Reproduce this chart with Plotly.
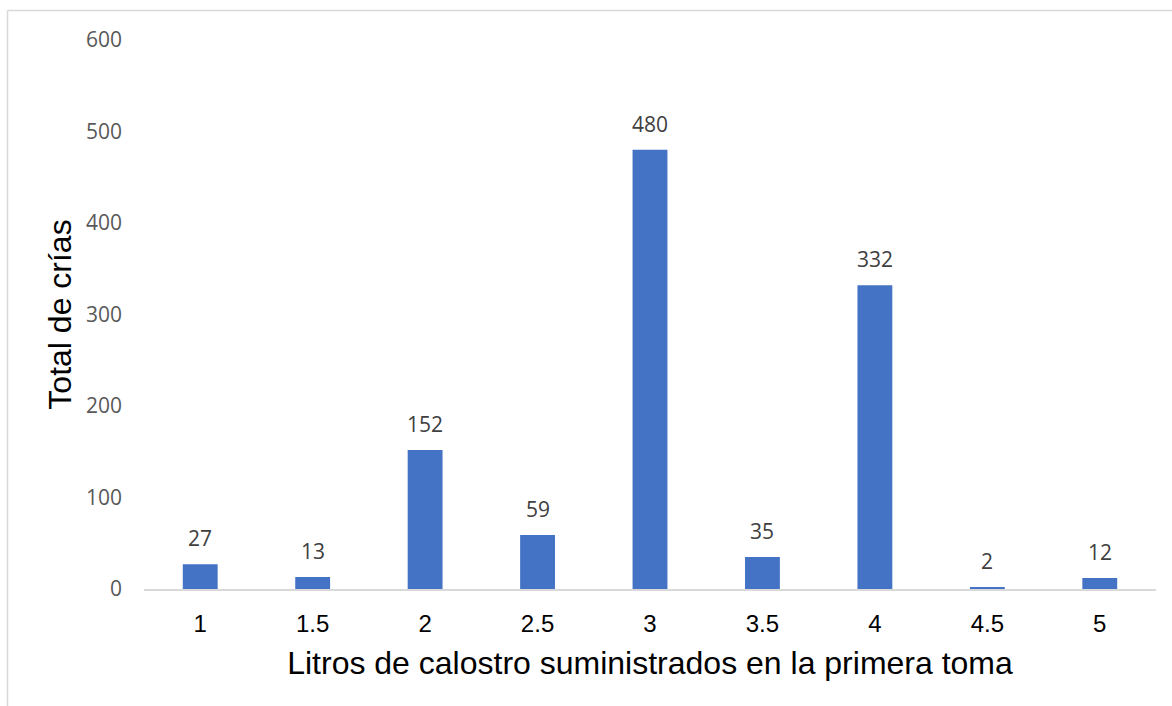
import plotly.graph_objects as go

# Litros de calostro en la primera toma y número de crías
litros = ["1", "1.5", "2", "2.5", "3", "3.5", "4", "4.5", "5"]
crias = [27, 13, 152, 59, 480, 35, 332, 2, 12]
y_ticks = [0, 100, 200, 300, 400, 500, 600]

BAR_COLOR = "#4472C4"
LABEL_GREY = "#404040"
TICK_GREY = "#595959"
BORDER_GREY = "#D9D9D9"

fig = go.Figure(
    go.Bar(
        x=litros,
        y=crias,
        marker=dict(color=BAR_COLOR, line=dict(width=0)),
        hoverinfo="x+y",
    )
)

# Value labels above each bar (category axis -> position by index)
for i, val in enumerate(crias):
    fig.add_annotation(
        x=i, y=val, text=str(val), showarrow=False,
        yanchor="bottom", yshift=10,
        font=dict(family="Open Sans", size=21, color=LABEL_GREY),
    )

W, H = 1172, 706
ml, mr, mt, mb = 144, 16, 40, 117
pw, ph = W - ml - mr, H - mt - mb

def px_x(p):
    return (p - ml) / pw

def px_y(p):
    return (H - mb - p) / ph

# Chart-area frame (left and top edges)
fig.add_shape(type="line", xref="paper", yref="paper",
              x0=px_x(7.5), x1=px_x(W + 5), y0=px_y(10.5), y1=px_y(10.5),
              line=dict(color=BORDER_GREY, width=1.5))
fig.add_shape(type="line", xref="paper", yref="paper",
              x0=px_x(7.5), x1=px_x(7.5), y0=px_y(10.5), y1=px_y(H + 5),
              line=dict(color=BORDER_GREY, width=1.5))

fig.update_layout(
    width=W, height=H,
    margin=dict(l=ml, r=mr, t=mt, b=mb, pad=0),
    paper_bgcolor="white", plot_bgcolor="white",
    bargap=0.69,
    showlegend=False,
    xaxis=dict(
        type="category",
        showgrid=False, zeroline=False,
        showline=True, linecolor=BORDER_GREY, linewidth=1.5,
        ticks="", ticklabelstandoff=12,
        tickfont=dict(family="Liberation Sans, Arial", size=24, color="black"),
        title=dict(text="Litros de calostro suministrados en la primera toma",
                   font=dict(family="Liberation Sans, Arial", size=32, color="black"),
                   standoff=16),
    ),
    yaxis=dict(
        range=[0, 600],
        tickvals=y_ticks,
        showgrid=False, zeroline=False, showline=False,
        ticks="", ticklabelstandoff=21,
        tickfont=dict(family="Open Sans", size=21, color=TICK_GREY),
        title=dict(text="Total de crías",
                   font=dict(family="Liberation Sans, Arial", size=32, color="black"),
                   standoff=4),
    ),
)

fig.write_html("out.html")
